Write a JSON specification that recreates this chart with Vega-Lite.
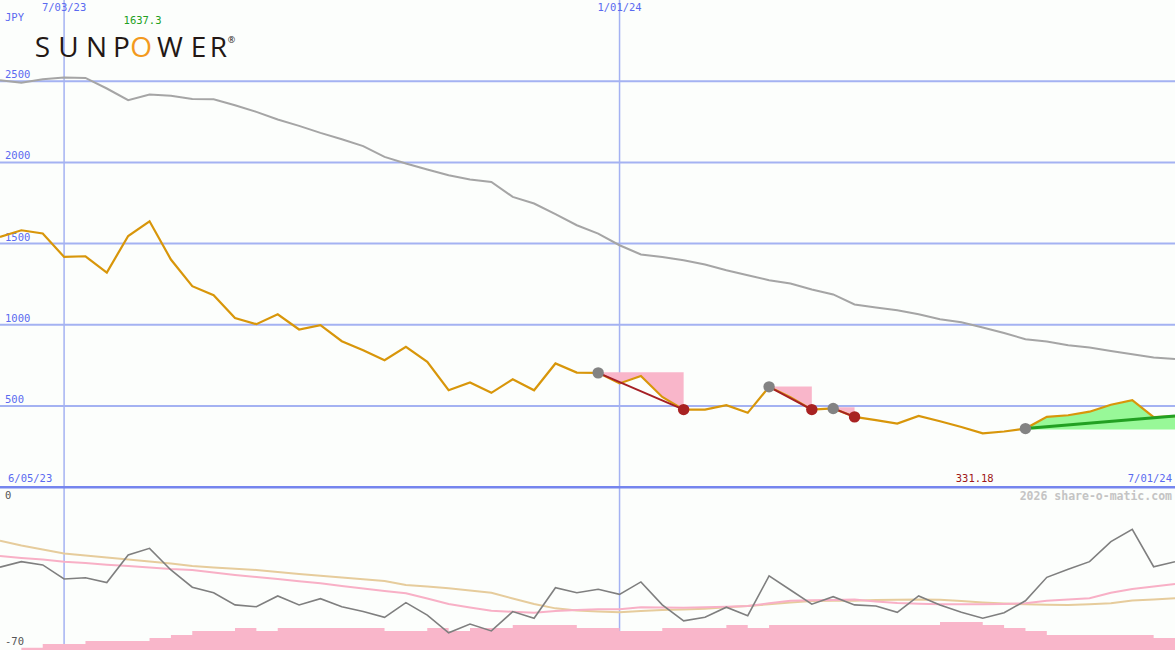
{
  "$schema": "https://vega.github.io/schema/vega-lite/v6.json",
  "width": 1175,
  "height": 650,
  "autosize": {"type": "none"},
  "padding": 0,
  "background": "#fcfefc",
  "config": {"view": {"stroke": null}, "text": {"font": "DejaVu Sans Mono", "fontSize": 10.5}},
  "datasets": {
    "one": [{}],
    "w": [
      {"d": "2023-06-12", "p": 1541, "ma": 2506, "o": -34.0, "s1": -29.1, "s2": -22.5, "h": -70},
      {"d": "2023-06-19", "p": 1582, "ma": 2490, "o": -31.6, "s1": -30.0, "s2": -24.6, "h": -69.0},
      {"d": "2023-06-26", "p": 1562, "ma": 2512, "o": -33.0, "s1": -30.7, "s2": -26.3, "h": -67.4},
      {"d": "2023-07-03", "p": 1418, "ma": 2523, "o": -39.1, "s1": -31.6, "s2": -28.0, "h": -67.4},
      {"d": "2023-07-10", "p": 1422, "ma": 2520, "o": -38.6, "s1": -32.2, "s2": -28.9, "h": -66.1},
      {"d": "2023-07-17", "p": 1322, "ma": 2455, "o": -40.7, "s1": -32.9, "s2": -29.8, "h": -66.1},
      {"d": "2023-07-24", "p": 1547, "ma": 2383, "o": -28.7, "s1": -33.5, "s2": -30.7, "h": -66.1},
      {"d": "2023-07-31", "p": 1637.3, "ma": 2418, "o": -25.8, "s1": -34.1, "s2": -31.5, "h": -64.8},
      {"d": "2023-08-07", "p": 1402, "ma": 2410, "o": -35.2, "s1": -34.8, "s2": -32.4, "h": -63.5},
      {"d": "2023-08-14", "p": 1238, "ma": 2391, "o": -42.7, "s1": -35.2, "s2": -33.5, "h": -61.7},
      {"d": "2023-08-21", "p": 1182, "ma": 2389, "o": -45.1, "s1": -36.3, "s2": -34.1, "h": -61.7},
      {"d": "2023-08-28", "p": 1042, "ma": 2352, "o": -50.4, "s1": -37.4, "s2": -34.7, "h": -60.4},
      {"d": "2023-09-04", "p": 1004, "ma": 2311, "o": -51.2, "s1": -38.3, "s2": -35.2, "h": -61.7},
      {"d": "2023-09-11", "p": 1065, "ma": 2264, "o": -46.5, "s1": -39.1, "s2": -36.1, "h": -60.4},
      {"d": "2023-09-18", "p": 971, "ma": 2225, "o": -50.4, "s1": -40.1, "s2": -37.0, "h": -60.4},
      {"d": "2023-09-25", "p": 998, "ma": 2182, "o": -47.7, "s1": -41.0, "s2": -37.7, "h": -60.4},
      {"d": "2023-10-02", "p": 899, "ma": 2143, "o": -51.2, "s1": -42.2, "s2": -38.5, "h": -60.4},
      {"d": "2023-10-09", "p": 844, "ma": 2100, "o": -53.3, "s1": -43.3, "s2": -39.2, "h": -60.4},
      {"d": "2023-10-16", "p": 782, "ma": 2034, "o": -55.8, "s1": -44.3, "s2": -40.0, "h": -61.7},
      {"d": "2023-10-23", "p": 864, "ma": 1993, "o": -49.4, "s1": -45.3, "s2": -41.7, "h": -61.7},
      {"d": "2023-10-30", "p": 772, "ma": 1956, "o": -54.8, "s1": -47.6, "s2": -42.4, "h": -60.4},
      {"d": "2023-11-06", "p": 597, "ma": 1921, "o": -62.5, "s1": -50.0, "s2": -43.2, "h": -61.7},
      {"d": "2023-11-13", "p": 645, "ma": 1895, "o": -58.7, "s1": -51.5, "s2": -44.1, "h": -60.4},
      {"d": "2023-11-20", "p": 581, "ma": 1880, "o": -61.7, "s1": -52.9, "s2": -45.1, "h": -60.4},
      {"d": "2023-11-27", "p": 665, "ma": 1788, "o": -53.3, "s1": -53.4, "s2": -47.6, "h": -59.1},
      {"d": "2023-12-04", "p": 597, "ma": 1747, "o": -56.2, "s1": -53.8, "s2": -50.0, "h": -59.1},
      {"d": "2023-12-11", "p": 762, "ma": 1681, "o": -42.9, "s1": -53.0, "s2": -51.9, "h": -59.1},
      {"d": "2023-12-18", "p": 706, "ma": 1613, "o": -45.1, "s1": -52.6, "s2": -52.8, "h": -60.4},
      {"d": "2023-12-25", "p": 704, "ma": 1562, "o": -43.6, "s1": -52.3, "s2": -53.3, "h": -60.4},
      {"d": "2024-01-01", "p": 639, "ma": 1490, "o": -45.8, "s1": -52.3, "s2": -53.6, "h": -61.7},
      {"d": "2024-01-08", "p": 685, "ma": 1433, "o": -40.4, "s1": -51.4, "s2": -53.0, "h": -61.7},
      {"d": "2024-01-15", "p": 556, "ma": 1418, "o": -50.4, "s1": -51.5, "s2": -52.6, "h": -60.4},
      {"d": "2024-01-22", "p": 478, "ma": 1398, "o": -57.3, "s1": -51.6, "s2": -52.4, "h": -60.4},
      {"d": "2024-01-29", "p": 478, "ma": 1371, "o": -55.8, "s1": -51.4, "s2": -52.1, "h": -60.4},
      {"d": "2024-02-05", "p": 505, "ma": 1336, "o": -51.4, "s1": -51.2, "s2": -51.4, "h": -59.1},
      {"d": "2024-02-12", "p": 458, "ma": 1305, "o": -55.1, "s1": -50.9, "s2": -50.9, "h": -60.4},
      {"d": "2024-02-19", "p": 618, "ma": 1275, "o": -37.8, "s1": -49.7, "s2": -50.1, "h": -59.1},
      {"d": "2024-02-26", "p": 554, "ma": 1254, "o": -43.9, "s1": -48.6, "s2": -49.3, "h": -59.1},
      {"d": "2024-03-04", "p": 478, "ma": 1217, "o": -50.1, "s1": -48.4, "s2": -48.7, "h": -59.1},
      {"d": "2024-03-11", "p": 485, "ma": 1187, "o": -46.8, "s1": -48.3, "s2": -48.6, "h": -59.1},
      {"d": "2024-03-18", "p": 433, "ma": 1125, "o": -50.4, "s1": -48.0, "s2": -48.6, "h": -59.1},
      {"d": "2024-03-25", "p": 413, "ma": 1107, "o": -50.9, "s1": -48.9, "s2": -48.3, "h": -59.1},
      {"d": "2024-04-01", "p": 392, "ma": 1090, "o": -53.6, "s1": -49.6, "s2": -48.2, "h": -59.1},
      {"d": "2024-04-08", "p": 439, "ma": 1065, "o": -46.5, "s1": -49.9, "s2": -48.0, "h": -59.1},
      {"d": "2024-04-15", "p": 406, "ma": 1034, "o": -50.4, "s1": -50.1, "s2": -48.1, "h": -57.8},
      {"d": "2024-04-22", "p": 371, "ma": 1016, "o": -53.6, "s1": -50.1, "s2": -48.7, "h": -57.8},
      {"d": "2024-04-29", "p": 331.18, "ma": 983, "o": -56.2, "s1": -50.1, "s2": -49.3, "h": -59.1},
      {"d": "2024-05-06", "p": 343, "ma": 950, "o": -53.8, "s1": -50.0, "s2": -49.8, "h": -60.4},
      {"d": "2024-05-13", "p": 361, "ma": 911, "o": -48.6, "s1": -49.7, "s2": -50.1, "h": -61.7},
      {"d": "2024-05-20", "p": 433, "ma": 897, "o": -38.4, "s1": -48.6, "s2": -50.3, "h": -63.5},
      {"d": "2024-05-27", "p": 443, "ma": 874, "o": -34.9, "s1": -48.0, "s2": -50.4, "h": -63.5},
      {"d": "2024-06-03", "p": 465, "ma": 860, "o": -31.6, "s1": -47.5, "s2": -50.1, "h": -63.5},
      {"d": "2024-06-10", "p": 508, "ma": 839, "o": -22.9, "s1": -45.1, "s2": -49.7, "h": -63.5},
      {"d": "2024-06-17", "p": 536, "ma": 819, "o": -17.5, "s1": -43.5, "s2": -48.5, "h": -63.5},
      {"d": "2024-06-24", "p": 431, "ma": 799, "o": -33.8, "s1": -42.4, "s2": -48.0, "h": -64.8},
      {"d": "2024-07-01", "p": 437, "ma": 790, "o": -31.6, "s1": -41.3, "s2": -47.5, "h": -64.8}
    ],
    "pink": [
      {"d": "2023-12-25", "p": 704, "lvl": 708, "g": "a"},
      {"d": "2024-01-01", "p": 639, "lvl": 708, "g": "a"},
      {"d": "2024-01-08", "p": 685, "lvl": 708, "g": "a"},
      {"d": "2024-01-15", "p": 556, "lvl": 708, "g": "a"},
      {"d": "2024-01-22", "p": 478, "lvl": 708, "g": "a"},
      {"d": "2024-02-19", "p": 618, "lvl": 620, "g": "b"},
      {"d": "2024-02-26", "p": 554, "lvl": 620, "g": "b"},
      {"d": "2024-03-04", "p": 478, "lvl": 620, "g": "b"},
      {"d": "2024-03-11", "p": 485, "lvl": 492, "g": "c"},
      {"d": "2024-03-18", "p": 433, "lvl": 492, "g": "c"}
    ],
    "green": [
      {"d": "2024-05-13", "p": 361, "lvl": 355},
      {"d": "2024-05-20", "p": 433, "lvl": 355},
      {"d": "2024-05-27", "p": 443, "lvl": 355},
      {"d": "2024-06-03", "p": 465, "lvl": 355},
      {"d": "2024-06-10", "p": 508, "lvl": 355},
      {"d": "2024-06-17", "p": 536, "lvl": 355},
      {"d": "2024-06-24", "p": 431, "lvl": 355},
      {"d": "2024-07-01", "p": 437, "lvl": 355}
    ],
    "redlines": [
      {"d": "2023-12-25", "p": 704, "g": "a"},
      {"d": "2024-01-22", "p": 478, "g": "a"},
      {"d": "2024-02-19", "p": 618, "g": "b"},
      {"d": "2024-03-04", "p": 478, "g": "b"},
      {"d": "2024-03-11", "p": 485, "g": "c"},
      {"d": "2024-03-18", "p": 433, "g": "c"}
    ],
    "trend": [
      {"d": "2024-05-13", "p": 361},
      {"d": "2024-07-01", "p": 439}
    ],
    "signals": [
      {"d": "2023-12-25", "p": 704, "k": "start"},
      {"d": "2024-01-22", "p": 478, "k": "end"},
      {"d": "2024-02-19", "p": 618, "k": "start"},
      {"d": "2024-03-04", "p": 478, "k": "end"},
      {"d": "2024-03-11", "p": 485, "k": "start"},
      {"d": "2024-03-18", "p": 433, "k": "end"},
      {"d": "2024-05-13", "p": 361, "k": "start"}
    ],
    "hgrid": [{"v": 500}, {"v": 1000}, {"v": 1500}, {"v": 2000}, {"v": 2500}],
    "vgrid": [{"d": "2023-07-03"}, {"d": "2024-01-01"}]
  },
  "layer": [
    {
      "layer": [
        {
          "data": {"name": "vgrid"},
          "mark": {"type": "rule", "color": "#a4b2f2", "strokeWidth": 1.5},
          "encoding": {
            "x": {"field": "d", "type": "temporal", "axis": null,
                  "scale": {"type": "utc", "domain": [{"year": 2023, "month": 6, "date": 12, "utc": true}, {"year": 2024, "month": 7, "date": 1, "utc": true}]}}
          }
        },
        {
          "data": {"name": "hgrid"},
          "mark": {"type": "rule", "color": "#a4b2f2", "strokeWidth": 2},
          "encoding": {
            "y": {"field": "v", "type": "quantitative", "axis": null,
                  "scale": {"domain": [-1002.4, 3000], "nice": false, "zero": false}}
          }
        },
        {
          "data": {"name": "hgrid"},
          "mark": {"type": "text", "align": "left", "baseline": "bottom", "dx": 5, "dy": -1, "color": "#5a6af0"},
          "encoding": {
            "x": {"datum": {"year": 2023, "month": 6, "date": 12, "utc": true}, "type": "temporal", "axis": null},
            "y": {"field": "v", "type": "quantitative", "axis": null},
            "text": {"field": "v", "type": "quantitative"}
          }
        },
        {
          "data": {"name": "one"},
          "mark": {"type": "rule", "color": "#7585ee", "strokeWidth": 2.5},
          "encoding": {"y": {"datum": 0, "type": "quantitative", "axis": null}}
        },
        {
          "data": {"name": "w"},
          "mark": {"type": "line", "color": "#a5a5a5", "strokeWidth": 2},
          "encoding": {
            "x": {"field": "d", "type": "temporal", "axis": null},
            "y": {"field": "ma", "type": "quantitative", "axis": null}
          }
        },
        {
          "data": {"name": "pink"},
          "mark": {"type": "area", "color": "#f9b6ca", "opacity": 1},
          "encoding": {
            "x": {"field": "d", "type": "temporal", "axis": null},
            "y": {"field": "p", "type": "quantitative", "axis": null},
            "y2": {"field": "lvl"},
            "detail": {"field": "g"}
          }
        },
        {
          "data": {"name": "green"},
          "mark": {"type": "area", "color": "#98f898", "opacity": 1},
          "encoding": {
            "x": {"field": "d", "type": "temporal", "axis": null},
            "y": {"field": "p", "type": "quantitative", "axis": null},
            "y2": {"field": "lvl"}
          }
        },
        {
          "data": {"name": "w"},
          "mark": {"type": "line", "color": "#d8960a", "strokeWidth": 2.2},
          "encoding": {
            "x": {"field": "d", "type": "temporal", "axis": null},
            "y": {"field": "p", "type": "quantitative", "axis": null}
          }
        },
        {
          "data": {"name": "redlines"},
          "mark": {"type": "line", "color": "#a52025", "strokeWidth": 2},
          "encoding": {
            "x": {"field": "d", "type": "temporal", "axis": null},
            "y": {"field": "p", "type": "quantitative", "axis": null},
            "detail": {"field": "g"}
          }
        },
        {
          "data": {"name": "trend"},
          "mark": {"type": "line", "color": "#22a022", "strokeWidth": 3},
          "encoding": {
            "x": {"field": "d", "type": "temporal", "axis": null},
            "y": {"field": "p", "type": "quantitative", "axis": null}
          }
        },
        {
          "data": {"name": "signals"},
          "mark": {"type": "point", "filled": true, "opacity": 1, "size": 130},
          "encoding": {
            "x": {"field": "d", "type": "temporal", "axis": null},
            "y": {"field": "p", "type": "quantitative", "axis": null},
            "color": {"field": "k", "type": "nominal", "legend": null,
                      "scale": {"domain": ["start", "end"], "range": ["#838383", "#a82222"]}}
          }
        },
        {
          "data": {"name": "one"},
          "mark": {"type": "text", "align": "center", "baseline": "middle", "color": "#5a6af0"},
          "encoding": {
            "x": {"datum": {"year": 2023, "month": 7, "date": 3, "utc": true}, "type": "temporal", "axis": null},
            "y": {"datum": 2950, "type": "quantitative", "axis": null},
            "text": {"value": "7/03/23"}
          }
        },
        {
          "data": {"name": "one"},
          "mark": {"type": "text", "align": "center", "baseline": "middle", "color": "#5a6af0"},
          "encoding": {
            "x": {"datum": {"year": 2024, "month": 1, "date": 1, "utc": true}, "type": "temporal", "axis": null},
            "y": {"datum": 2950, "type": "quantitative", "axis": null},
            "text": {"value": "1/01/24"}
          }
        },
        {
          "data": {"name": "one"},
          "mark": {"type": "text", "align": "left", "baseline": "middle", "dx": 5, "color": "#5a6af0"},
          "encoding": {
            "x": {"datum": {"year": 2023, "month": 6, "date": 12, "utc": true}, "type": "temporal", "axis": null},
            "y": {"datum": 2888, "type": "quantitative", "axis": null},
            "text": {"value": "JPY"}
          }
        },
        {
          "data": {"name": "one"},
          "mark": {"type": "text", "align": "center", "baseline": "middle", "dx": -7, "color": "#22a022"},
          "encoding": {
            "x": {"datum": {"year": 2023, "month": 7, "date": 31, "utc": true}, "type": "temporal", "axis": null},
            "y": {"datum": 2870, "type": "quantitative", "axis": null},
            "text": {"value": "1637.3"}
          }
        },
        {
          "data": {"name": "one"},
          "mark": {"type": "text", "align": "center", "baseline": "alphabetic", "font": "Open Sans", "fontWeight": 400, "fontSize": 28, "color": "#231815"},
          "encoding": {
            "x": {"datum": {"year": 2023, "month": 6, "date": 25, "hours": 22, "utc": true}, "type": "temporal", "axis": null},
            "y": {"datum": 2648, "type": "quantitative", "axis": null},
            "text": {"value": "S"}
          }
        },
        {
          "data": {"name": "one"},
          "mark": {"type": "text", "align": "center", "baseline": "alphabetic", "font": "Open Sans", "fontWeight": 400, "fontSize": 28, "color": "#231815"},
          "encoding": {
            "x": {"datum": {"year": 2023, "month": 7, "date": 4, "hours": 11, "utc": true}, "type": "temporal", "axis": null},
            "y": {"datum": 2648, "type": "quantitative", "axis": null},
            "text": {"value": "U"}
          }
        },
        {
          "data": {"name": "one"},
          "mark": {"type": "text", "align": "center", "baseline": "alphabetic", "font": "Open Sans", "fontWeight": 400, "fontSize": 28, "color": "#231815"},
          "encoding": {
            "x": {"datum": {"year": 2023, "month": 7, "date": 13, "hours": 15, "utc": true}, "type": "temporal", "axis": null},
            "y": {"datum": 2648, "type": "quantitative", "axis": null},
            "text": {"value": "N"}
          }
        },
        {
          "data": {"name": "one"},
          "mark": {"type": "text", "align": "center", "baseline": "alphabetic", "font": "Open Sans", "fontWeight": 400, "fontSize": 28, "color": "#231815"},
          "encoding": {
            "x": {"datum": {"year": 2023, "month": 7, "date": 21, "hours": 19, "utc": true}, "type": "temporal", "axis": null},
            "y": {"datum": 2648, "type": "quantitative", "axis": null},
            "text": {"value": "P"}
          }
        },
        {
          "data": {"name": "one"},
          "mark": {"type": "text", "align": "center", "baseline": "alphabetic", "font": "Open Sans", "fontWeight": 400, "fontSize": 28, "color": "#f39a1e"},
          "encoding": {
            "x": {"datum": {"year": 2023, "month": 7, "date": 28, "hours": 5, "utc": true}, "type": "temporal", "axis": null},
            "y": {"datum": 2648, "type": "quantitative", "axis": null},
            "text": {"value": "O"}
          }
        },
        {
          "data": {"name": "one"},
          "mark": {"type": "text", "align": "center", "baseline": "alphabetic", "font": "Open Sans", "fontWeight": 400, "fontSize": 28, "color": "#231815"},
          "encoding": {
            "x": {"datum": {"year": 2023, "month": 8, "date": 6, "hours": 17, "utc": true}, "type": "temporal", "axis": null},
            "y": {"datum": 2648, "type": "quantitative", "axis": null},
            "text": {"value": "W"}
          }
        },
        {
          "data": {"name": "one"},
          "mark": {"type": "text", "align": "center", "baseline": "alphabetic", "font": "Open Sans", "fontWeight": 400, "fontSize": 28, "color": "#231815"},
          "encoding": {
            "x": {"datum": {"year": 2023, "month": 8, "date": 16, "hours": 1, "utc": true}, "type": "temporal", "axis": null},
            "y": {"datum": 2648, "type": "quantitative", "axis": null},
            "text": {"value": "E"}
          }
        },
        {
          "data": {"name": "one"},
          "mark": {"type": "text", "align": "center", "baseline": "alphabetic", "font": "Open Sans", "fontWeight": 400, "fontSize": 28, "color": "#231815"},
          "encoding": {
            "x": {"datum": {"year": 2023, "month": 8, "date": 22, "hours": 14, "utc": true}, "type": "temporal", "axis": null},
            "y": {"datum": 2648, "type": "quantitative", "axis": null},
            "text": {"value": "R"}
          }
        },
        {
          "data": {"name": "one"},
          "mark": {"type": "text", "align": "center", "baseline": "middle", "font": "Open Sans", "fontSize": 9, "color": "#231815"},
          "encoding": {
            "x": {"datum": {"year": 2023, "month": 8, "date": 26, "hours": 20, "utc": true}, "type": "temporal", "axis": null},
            "y": {"datum": 2752, "type": "quantitative", "axis": null},
            "text": {"value": "®"}
          }
        },
        {
          "data": {"name": "one"},
          "mark": {"type": "text", "align": "left", "baseline": "bottom", "dx": 8, "dy": -3, "color": "#5a6af0"},
          "encoding": {
            "x": {"datum": {"year": 2023, "month": 6, "date": 12, "utc": true}, "type": "temporal", "axis": null},
            "y": {"datum": 0, "type": "quantitative", "axis": null},
            "text": {"value": "6/05/23"}
          }
        },
        {
          "data": {"name": "one"},
          "mark": {"type": "text", "align": "center", "baseline": "bottom", "dx": -8, "dy": -3, "color": "#a01818"},
          "encoding": {
            "x": {"datum": {"year": 2024, "month": 4, "date": 29, "utc": true}, "type": "temporal", "axis": null},
            "y": {"datum": 0, "type": "quantitative", "axis": null},
            "text": {"value": "331.18"}
          }
        },
        {
          "data": {"name": "one"},
          "mark": {"type": "text", "align": "right", "baseline": "bottom", "dx": -3, "dy": -3, "color": "#5a6af0"},
          "encoding": {
            "x": {"datum": {"year": 2024, "month": 7, "date": 1, "utc": true}, "type": "temporal", "axis": null},
            "y": {"datum": 0, "type": "quantitative", "axis": null},
            "text": {"value": "7/01/24"}
          }
        }
      ]
    },
    {
      "layer": [
        {
          "data": {"name": "w"},
          "mark": {"type": "area", "color": "#f9b6ca", "interpolate": "step-after", "opacity": 1},
          "encoding": {
            "x": {"field": "d", "type": "temporal", "axis": null},
            "y": {"field": "h", "type": "quantitative", "axis": null,
                  "scale": {"domain": [-70, 212.6], "nice": false, "zero": false}},
            "y2": {"datum": -70}
          }
        },
        {
          "data": {"name": "w"},
          "mark": {"type": "line", "color": "#e6cc9c", "strokeWidth": 2},
          "encoding": {
            "x": {"field": "d", "type": "temporal", "axis": null},
            "y": {"field": "s2", "type": "quantitative", "axis": null}
          }
        },
        {
          "data": {"name": "w"},
          "mark": {"type": "line", "color": "#f8b0c6", "strokeWidth": 2},
          "encoding": {
            "x": {"field": "d", "type": "temporal", "axis": null},
            "y": {"field": "s1", "type": "quantitative", "axis": null}
          }
        },
        {
          "data": {"name": "w"},
          "mark": {"type": "line", "color": "#7f7f7f", "strokeWidth": 1.6},
          "encoding": {
            "x": {"field": "d", "type": "temporal", "axis": null},
            "y": {"field": "o", "type": "quantitative", "axis": null}
          }
        },
        {
          "data": {"name": "one"},
          "mark": {"type": "text", "align": "left", "baseline": "top", "dx": 5, "dy": 2, "color": "#555555"},
          "encoding": {
            "x": {"datum": {"year": 2023, "month": 6, "date": 12, "utc": true}, "type": "temporal", "axis": null},
            "y": {"datum": 0, "type": "quantitative", "axis": null},
            "text": {"value": "0"}
          }
        },
        {
          "data": {"name": "one"},
          "mark": {"type": "text", "align": "left", "baseline": "bottom", "dx": 5, "dy": -3, "color": "#555555"},
          "encoding": {
            "x": {"datum": {"year": 2023, "month": 6, "date": 12, "utc": true}, "type": "temporal", "axis": null},
            "y": {"datum": -70, "type": "quantitative", "axis": null},
            "text": {"value": "-70"}
          }
        },
        {
          "data": {"name": "one"},
          "mark": {"type": "text", "align": "right", "baseline": "top", "dx": -3, "dy": 2, "color": "#c4c4c4", "fontWeight": "bold", "fontSize": 11.5},
          "encoding": {
            "x": {"datum": {"year": 2024, "month": 7, "date": 1, "utc": true}, "type": "temporal", "axis": null},
            "y": {"datum": 0, "type": "quantitative", "axis": null},
            "text": {"value": "2026 share-o-matic.com"}
          }
        }
      ]
    }
  ],
  "resolve": {"scale": {"y": "independent"}}
}
